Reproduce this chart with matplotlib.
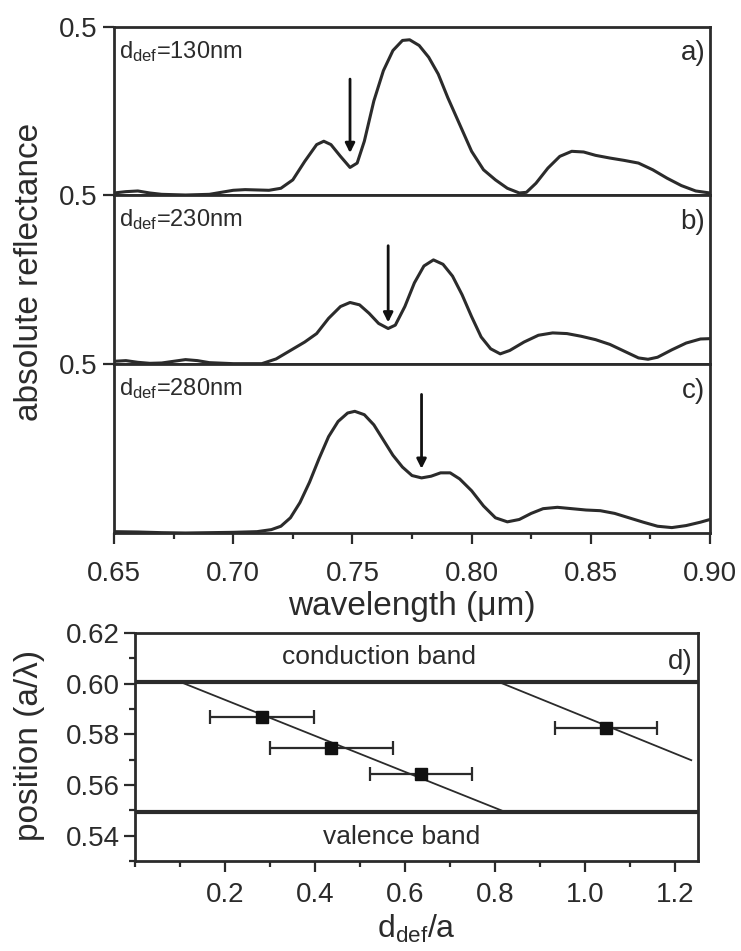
import matplotlib
matplotlib.use("Agg")
import matplotlib.pyplot as plt
from matplotlib.ticker import MultipleLocator, FixedLocator

plt.rcParams['font.family'] = ['Liberation Sans', 'DejaVu Sans']
plt.rcParams['mathtext.fontset'] = 'custom'
plt.rcParams['mathtext.rm'] = 'Liberation Sans'
plt.rcParams['mathtext.it'] = 'Liberation Sans'
plt.rcParams['mathtext.default'] = 'rm'

# ---------------- data ----------------
wl_a = [0.650, 0.655, 0.660, 0.665, 0.670, 0.680, 0.690, 0.695, 0.700, 0.705, 0.710, 0.715,
        0.720, 0.725, 0.730, 0.735, 0.738, 0.741, 0.745, 0.749, 0.752, 0.755, 0.759, 0.763,
        0.767, 0.771, 0.774, 0.778, 0.782, 0.786, 0.790, 0.795, 0.800, 0.805, 0.810, 0.815,
        0.820, 0.823, 0.827, 0.832, 0.837, 0.842, 0.847, 0.852, 0.858, 0.864, 0.870, 0.876,
        0.882, 0.888, 0.894, 0.900]
refl_a = [0.006, 0.010, 0.012, 0.006, 0.002, 0.000, 0.002, 0.008, 0.014, 0.016, 0.015, 0.014,
          0.020, 0.045, 0.100, 0.150, 0.160, 0.150, 0.115, 0.082, 0.095, 0.160, 0.280, 0.370,
          0.430, 0.460, 0.462, 0.445, 0.410, 0.360, 0.290, 0.210, 0.130, 0.075, 0.045, 0.020,
          0.006, 0.008, 0.035, 0.080, 0.115, 0.130, 0.128, 0.118, 0.110, 0.103, 0.095, 0.075,
          0.050, 0.028, 0.012, 0.006]

wl_b = [0.650, 0.655, 0.660, 0.665, 0.670, 0.675, 0.680, 0.685, 0.690, 0.700, 0.712, 0.718,
        0.724, 0.730, 0.735, 0.740, 0.745, 0.749, 0.753, 0.757, 0.761, 0.765, 0.768, 0.772,
        0.776, 0.780, 0.784, 0.788, 0.792, 0.796, 0.800, 0.804, 0.808, 0.812, 0.816, 0.822,
        0.828, 0.834, 0.840, 0.846, 0.852, 0.858, 0.864, 0.870, 0.874, 0.878, 0.884, 0.890,
        0.896, 0.900]
refl_b = [0.008, 0.010, 0.005, 0.002, 0.003, 0.008, 0.013, 0.010, 0.004, 0.001, 0.001, 0.015,
          0.040, 0.065, 0.090, 0.135, 0.170, 0.182, 0.175, 0.150, 0.120, 0.105, 0.115, 0.170,
          0.240, 0.290, 0.308, 0.295, 0.260, 0.205, 0.140, 0.080, 0.045, 0.030, 0.040, 0.065,
          0.085, 0.092, 0.090, 0.082, 0.072, 0.058, 0.038, 0.018, 0.014, 0.020, 0.042, 0.062,
          0.074, 0.075]

wl_c = [0.650, 0.660, 0.670, 0.680, 0.690, 0.700, 0.710, 0.716, 0.720, 0.724, 0.728, 0.732,
        0.736, 0.740, 0.744, 0.748, 0.751, 0.755, 0.759, 0.763, 0.767, 0.771, 0.775, 0.779,
        0.783, 0.787, 0.791, 0.795, 0.800, 0.805, 0.810, 0.815, 0.820, 0.825, 0.830, 0.836,
        0.842, 0.848, 0.854, 0.860, 0.866, 0.872, 0.878, 0.884, 0.890, 0.896, 0.900]
refl_c = [0.004, 0.003, 0.001, 0.000, 0.001, 0.002, 0.004, 0.010, 0.020, 0.045, 0.090, 0.150,
          0.220, 0.285, 0.330, 0.355, 0.360, 0.350, 0.320, 0.275, 0.230, 0.195, 0.170, 0.163,
          0.168, 0.178, 0.178, 0.160, 0.125, 0.080, 0.045, 0.033, 0.040, 0.058, 0.072, 0.076,
          0.072, 0.068, 0.066, 0.058, 0.045, 0.032, 0.020, 0.016, 0.022, 0.032, 0.040]

panel_labels = ['a)', 'b)', 'c)']
d_def_labels = ['130nm', '230nm', '280nm']
arrow_x = [0.749, 0.765, 0.779]
arrow_top = [0.345, 0.350, 0.410]
arrow_tip = [0.125, 0.123, 0.190]
wl_ticks = [0.65, 0.70, 0.75, 0.80, 0.85, 0.90]
wl_ticklabels = ['0.65', '0.70', '0.75', '0.80', '0.85', '0.90']

# panel d
ddef_a = [0.282, 0.436, 0.635, 1.046]
position = [0.5868, 0.5745, 0.5645, 0.5825]
ddef_err = [0.115, 0.136, 0.114, 0.114]
fit1_x = [0.096, 0.820]
fit1_y = [0.6010, 0.5495]
fit2_x = [0.803, 1.235]
fit2_y = [0.6010, 0.5698]
conduction_edge = 0.6006
valence_edge = 0.5495
d_xticks = [0.2, 0.4, 0.6, 0.8, 1.0, 1.2]
d_yticks = [0.54, 0.56, 0.58, 0.60, 0.62]

# ---------------- figure ----------------
W, H = 741, 951
fig = plt.figure(figsize=(W / 100, H / 100), dpi=100)
ink = '#2b2b2b'


def pos(l, t, r, b):
    return [l / W, 1 - b / H, (r - l) / W, (b - t) / H]


spec_pos = [pos(114, 27, 710, 195), pos(114, 195, 710, 364), pos(114, 364, 710, 533)]
wls = [wl_a, wl_b, wl_c]
refls = [refl_a, refl_b, refl_c]

for i in range(3):
    ax = fig.add_axes(spec_pos[i])
    ax.plot(wls[i], refls[i], color=ink, lw=2.2, solid_joinstyle='round')
    ax.set_xlim(0.65, 0.90)
    ax.set_ylim(0.0, 0.5)
    ax.yaxis.set_major_locator(FixedLocator([0.5]))
    ax.set_yticklabels(['0.5'])
    ax.tick_params(axis='y', direction='out', length=8, width=1.6, labelsize=20,
                   pad=4, colors=ink)
    for s in ax.spines.values():
        s.set_linewidth(2.0)
        s.set_color(ink)
    if i < 2:
        ax.set_xticks([])
    else:
        ax.set_xticks(wl_ticks)
        ax.set_xticklabels(wl_ticklabels)
        ax.xaxis.set_minor_locator(MultipleLocator(0.025))
        ax.tick_params(axis='x', which='major', direction='out', length=8, width=1.6,
                       labelsize=20, pad=12, colors=ink)
        ax.tick_params(axis='x', which='minor', direction='out', length=4, width=1.6,
                       colors=ink)
    ax.text(0.008, 0.93, r'd$_{\mathrm{def}}$=' + d_def_labels[i], transform=ax.transAxes,
            ha='left', va='top', fontsize=17, color=ink)
    ax.text(0.992, 0.92, panel_labels[i], transform=ax.transAxes,
            ha='right', va='top', fontsize=20, color=ink)
    ax.annotate('', xy=(arrow_x[i], arrow_tip[i]), xytext=(arrow_x[i], arrow_top[i]),
                arrowprops=dict(arrowstyle='-|>', color='#111111', lw=2.0,
                                mutation_scale=14, shrinkA=0, shrinkB=0))

fig.text(30 / W, 1 - 272 / H, 'absolute reflectance', rotation=90, ha='center',
         va='center', fontsize=24, color=ink)
fig.text(412 / W, 1 - 606 / H, 'wavelength (\u03bcm)', ha='center', va='center',
         fontsize=24, color=ink)

# panel d
axd = fig.add_axes(pos(135, 633, 698, 861))
axd.set_xlim(0.0, 1.25)
axd.set_ylim(0.53, 0.62)
axd.axhline(conduction_edge, color=ink, lw=3.0)
axd.axhline(valence_edge, color=ink, lw=3.0)
axd.plot(fit1_x, fit1_y, color=ink, lw=1.3)
axd.plot(fit2_x, fit2_y, color=ink, lw=1.3)
axd.errorbar(ddef_a, position, xerr=ddef_err, fmt='s', color='#111111', ms=9,
             ecolor=ink, elinewidth=1.6, capsize=5, capthick=1.6)
axd.set_xticks(d_xticks)
axd.set_xticklabels(['0.2', '0.4', '0.6', '0.8', '1.0', '1.2'])
axd.xaxis.set_minor_locator(MultipleLocator(0.1))
axd.set_yticks(d_yticks)
axd.set_yticklabels(['0.54', '0.56', '0.58', '0.60', '0.62'])
axd.yaxis.set_minor_locator(MultipleLocator(0.01))
axd.tick_params(which='major', direction='out', length=8, width=1.6, labelsize=20,
                colors=ink)
axd.tick_params(axis='x', which='major', pad=7)
axd.tick_params(axis='y', which='major', pad=3)
axd.tick_params(which='minor', direction='out', length=4, width=1.6, colors=ink)
for s in axd.spines.values():
    s.set_linewidth(2.0)
    s.set_color(ink)
axd.text(0.542, 0.6105, 'conduction band', ha='center', va='center', fontsize=19, color=ink)
axd.text(0.593, 0.5395, 'valence band', ha='center', va='center', fontsize=19, color=ink)
axd.text(0.99, 0.93, 'd)', transform=axd.transAxes, ha='right', va='top', fontsize=20,
         color=ink)

fig.text(30 / W, 1 - 745 / H, 'position (a/\u03bb)', rotation=90, ha='center',
         va='center', fontsize=24, color=ink)
fig.text(416 / W, 1 - 938 / H, r'd$_{\mathrm{def}}$/a', ha='center', va='baseline',
         fontsize=23, color=ink)

fig.savefig('out.png', dpi=100)
